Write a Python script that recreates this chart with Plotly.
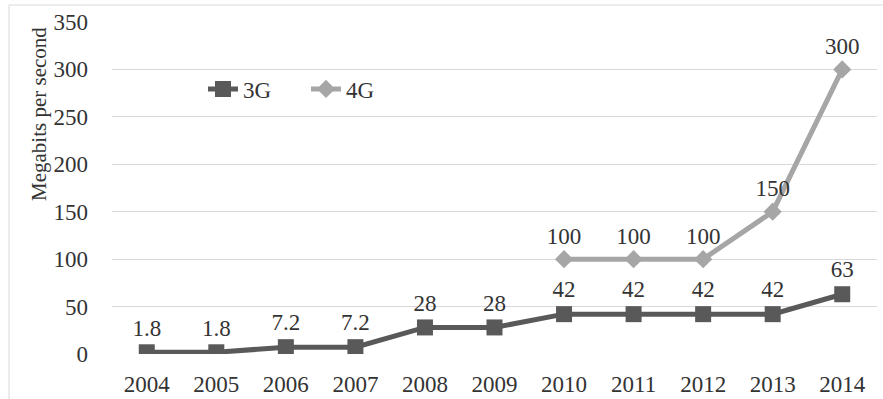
import plotly.graph_objects as go

# Peak mobile download speeds by year
years = ["2004", "2005", "2006", "2007", "2008", "2009",
         "2010", "2011", "2012", "2013", "2014"]
speed_3g = [1.8, 1.8, 7.2, 7.2, 28, 28, 42, 42, 42, 42, 63]
speed_4g = [None, None, None, None, None, None, 100, 100, 100, 150, 300]
y_ticks = [0, 50, 100, 150, 200, 250, 300, 350]

FONT = "Liberation Serif, Times New Roman, serif"
TEXT = "#333333"
W, H = 883, 399
ML, MR, MT, MB = 112, 6, 22, 45
PW, PH = W - ML - MR, H - MT - MB


def px_x(x):
    return (x - ML) / PW


def px_y(y):
    return (H - MB - y) / PH


def fmt(v):
    return "" if v is None else f"{v:g}"


fig = go.Figure()
fig.add_trace(go.Scatter(
    x=years, y=speed_3g, name="3G", mode="lines+markers+text",
    line=dict(color="#595959", width=5),
    marker=dict(symbol="square", size=16, color="#595959"),
    text=[fmt(v) for v in speed_3g], textposition="top center",
    textfont=dict(family=FONT, size=23, color=TEXT),
))
fig.add_trace(go.Scatter(
    x=years, y=speed_4g, name="4G", mode="lines+markers+text",
    line=dict(color="#a6a6a6", width=5),
    marker=dict(symbol="diamond", size=14, color="#a6a6a6"),
    text=[fmt(v) for v in speed_4g], textposition="top center",
    textfont=dict(family=FONT, size=23, color=TEXT),
    connectgaps=False,
))

fig.update_layout(
    width=W, height=H,
    margin=dict(l=ML, r=MR, t=MT, b=MB, autoexpand=False),
    paper_bgcolor="white", plot_bgcolor="white",
    font=dict(family=FONT, size=23, color=TEXT),
    showlegend=True,
    legend=dict(
        orientation="h", x=px_x(203), y=px_y(89),
        xanchor="left", yanchor="middle",
        bgcolor="rgba(0,0,0,0)", font=dict(family=FONT, size=23, color=TEXT),
        entrywidth=58, entrywidthmode="pixels", tracegroupgap=0,
    ),
    xaxis=dict(
        type="category", range=[-0.5, len(years) - 0.5],
        showgrid=False, showline=False, zeroline=False,
        ticks="", tickfont=dict(family=FONT, size=23, color=TEXT),
        ticklabelstandoff=14, automargin=False,
    ),
    yaxis=dict(
        range=[0, 350], tickvals=y_ticks, showgrid=True,
        gridcolor="#d9d9d9", gridwidth=1, zeroline=False, showline=False,
        ticks="", tickfont=dict(family=FONT, size=23, color=TEXT),
        ticklabelstandoff=23, automargin=False,
    ),
    annotations=[dict(
        text="Megabits per second", xref="paper", yref="paper",
        x=px_x(39), y=px_y(114), textangle=-90, showarrow=False,
        xanchor="center", yanchor="middle",
        font=dict(family=FONT, size=21, color=TEXT),
    )],
    shapes=[dict(
        type="rect", xref="paper", yref="paper", layer="below",
        x0=px_x(9), x1=px_x(W + 20), y0=px_y(H + 20), y1=px_y(5),
        line=dict(color="#d9d9d9", width=1), fillcolor="rgba(0,0,0,0)",
    )],
)

fig.write_html("out.html")
